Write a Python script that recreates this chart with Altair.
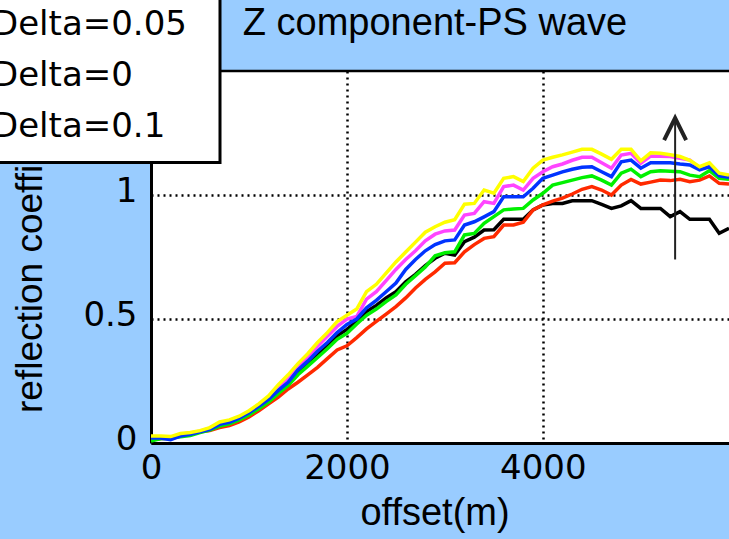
import altair as alt
import pandas as pd

# ---------------- data ----------------
offset_m = list(range(0, 6000, 100))

black = [0.015, 0.018, 0.018, 0.03, 0.036, 0.045, 0.055, 0.072, 0.08, 0.097,
         0.118, 0.143, 0.17, 0.205, 0.24, 0.285, 0.32, 0.36, 0.395, 0.432,
         0.458, 0.49, 0.53, 0.555, 0.585, 0.61, 0.65, 0.68, 0.715, 0.745,
         0.765, 0.758, 0.812, 0.83, 0.859, 0.86, 0.902, 0.902, 0.902, 0.94,
         0.96, 0.966, 0.966, 0.977, 0.977, 0.977, 0.962, 0.946, 0.956, 0.977,
         0.946, 0.946, 0.946, 0.913, 0.933, 0.902, 0.902, 0.902, 0.846, 0.866]
red = [0.012, 0.02, 0.022, 0.03, 0.035, 0.045, 0.05, 0.062, 0.07, 0.085,
       0.105, 0.13, 0.158, 0.185, 0.218, 0.245, 0.275, 0.305, 0.34, 0.375,
       0.392, 0.425, 0.46, 0.49, 0.52, 0.55, 0.585, 0.625, 0.66, 0.69,
       0.725, 0.727, 0.771, 0.8, 0.825, 0.832, 0.879, 0.879, 0.89, 0.94,
       0.96, 0.975, 0.987, 1.004, 1.023, 1.034, 1.02, 1.0, 1.04, 1.063,
       1.044, 1.052, 1.06, 1.058, 1.063, 1.054, 1.06, 1.077, 1.047, 1.044]
green = [0.008, 0.018, 0.02, 0.025, 0.03, 0.042, 0.052, 0.068, 0.077, 0.093,
         0.113, 0.138, 0.165, 0.2, 0.232, 0.275, 0.31, 0.345, 0.38, 0.418,
         0.442, 0.48, 0.515, 0.54, 0.57, 0.597, 0.64, 0.675, 0.71, 0.755,
         0.767, 0.771, 0.839, 0.845, 0.886, 0.913, 0.94, 0.944, 0.946, 0.98,
         1.007, 1.04, 1.05, 1.06, 1.07, 1.077, 1.06, 1.04, 1.088, 1.104,
         1.074, 1.094, 1.098, 1.096, 1.094, 1.08, 1.074, 1.098, 1.067, 1.063]
magenta = [0.025, 0.025, 0.022, 0.035, 0.04, 0.048, 0.06, 0.08, 0.088, 0.102,
           0.125, 0.152, 0.182, 0.225, 0.262, 0.31, 0.345, 0.39, 0.43, 0.47,
           0.5, 0.51, 0.58, 0.61, 0.655, 0.7, 0.74, 0.775, 0.815, 0.842,
           0.855, 0.859, 0.919, 0.926, 0.973, 0.966, 1.034, 1.04, 1.02, 1.067,
           1.094, 1.114, 1.125, 1.14, 1.152, 1.152, 1.13, 1.108, 1.161, 1.168,
           1.128, 1.157, 1.156, 1.155, 1.148, 1.141, 1.108, 1.125, 1.081, 1.074]
blue = [0.02, 0.02, 0.013, 0.028, 0.035, 0.045, 0.055, 0.075, 0.083, 0.1,
        0.122, 0.148, 0.176, 0.212, 0.245, 0.295, 0.33, 0.37, 0.405, 0.445,
        0.478, 0.5, 0.545, 0.575, 0.61, 0.645, 0.7, 0.74, 0.775, 0.8,
        0.815, 0.819, 0.879, 0.892, 0.912, 0.933, 0.993, 0.993, 0.993, 1.027,
        1.067, 1.08, 1.093, 1.104, 1.112, 1.114, 1.094, 1.074, 1.134, 1.141,
        1.108, 1.13, 1.13, 1.13, 1.125, 1.121, 1.101, 1.114, 1.077, 1.071]
yellow = [0.028, 0.028, 0.026, 0.038, 0.042, 0.05, 0.062, 0.085, 0.093, 0.108,
          0.13, 0.158, 0.19, 0.235, 0.275, 0.32, 0.36, 0.405, 0.445, 0.49,
          0.515, 0.54, 0.61, 0.64, 0.685, 0.73, 0.77, 0.81, 0.85, 0.872,
          0.89, 0.9, 0.963, 0.966, 1.02, 1.007, 1.067, 1.074, 1.054, 1.108,
          1.141, 1.152, 1.162, 1.173, 1.184, 1.184, 1.165, 1.144, 1.184, 1.184,
          1.138, 1.17, 1.168, 1.162, 1.155, 1.14, 1.114, 1.13, 1.088, 1.081]

# drawing order (first drawn at the bottom)
series_names = ["black", "red", "green", "magenta", "blue", "yellow"]
series_values = [black, red, green, magenta, blue, yellow]
series_colors = ["#000000", "#FF2A00", "#00F000", "#FF44FF", "#0033FF", "#FFFF00"]

legend_labels = ["Delta=0.05", "Delta=0", "Delta=0.1"]
x_ticks = [0, 2000, 4000]
y_ticks = [0, 0.5, 1]

arrow_offset = [5350]
arrow_from = [0.74]
arrow_to = [1.31]
arrow_head = [1.266]

title_text = "Z component-PS wave"
x_title = "offset(m)"
y_title = "reflection coefficient"

# ---------------- layout ----------------
W, H = 578, 372
PAD = {"left": 151, "top": 71, "right": 0, "bottom": 96}
BG = "#99CCFF"

x_scale = alt.Scale(domain=[0, 5900], nice=False, zero=False)
y_scale = alt.Scale(domain=[0, 1.5], nice=False)

common_axis = dict(
    title=None, ticks=False, tickSize=0,
    labelFont="DejaVu Sans", labelFontSize=34, labelColor="black",
    labelOverlap=False, labelFlush=False, labelBound=False,
    domainColor="black", domainWidth=3,
    grid=True, gridColor="black", gridDash=[2, 4], gridWidth=2.5, gridOpacity=1,
)
x_axis = alt.Axis(values=x_ticks, format="d", labelPadding=8, **common_axis)
y_axis = alt.Axis(values=y_ticks, format="~g", labelPadding=14, labelOffset=-4, **common_axis)

X = alt.X("offset:Q", scale=x_scale, axis=x_axis)
Y = alt.Y("value:Q", scale=y_scale, axis=y_axis)

layers = []
for name, vals, col in zip(series_names, series_values, series_colors):
    df = pd.DataFrame({"offset": offset_m, "value": vals})
    layers.append(
        alt.Chart(df).mark_line(color=col, strokeWidth=3.5, clip=True, strokeJoin="miter")
        .encode(x=X, y=Y)
    )

arrow_df = pd.DataFrame({"offset": arrow_offset, "value": arrow_from, "value2": arrow_to,
                         "head": arrow_head})
layers.append(
    alt.Chart(arrow_df).mark_rule(color="#222222", strokeWidth=2)
    .encode(x=X, y=Y, y2="value2:Q")
)
layers.append(
    alt.Chart(arrow_df).mark_point(shape="M -1 1 L 0 -1 L 1 1", filled=False,
                                   color="#222222", strokeWidth=4, size=484, opacity=1)
    .encode(x=X, y=alt.Y("head:Q", scale=y_scale, axis=y_axis))
)

one = pd.DataFrame({"a": [0]})
# top border of the axes box
layers.append(
    alt.Chart(one).mark_rule(color="black", strokeWidth=2.5)
    .encode(x=alt.value(0), x2=alt.value(W), y=alt.value(0))
)

# title and axis titles
layers.append(
    alt.Chart(pd.DataFrame({"t": [title_text]})).mark_text(
        font="Liberation Sans", fontSize=38, align="center", baseline="alphabetic", color="black")
    .encode(text="t:N", x=alt.value(284), y=alt.value(-36))
)
layers.append(
    alt.Chart(pd.DataFrame({"t": [x_title]})).mark_text(
        font="Liberation Sans", fontSize=38, align="center", baseline="alphabetic", color="black")
    .encode(text="t:N", x=alt.value(284), y=alt.value(454))
)
layers.append(
    alt.Chart(pd.DataFrame({"t": [y_title]})).mark_text(
        font="Liberation Sans", fontSize=37, align="left", baseline="alphabetic",
        angle=270, color="black")
    .encode(text="t:N", x=alt.value(-109), y=alt.value(342))
)

# legend box (partly outside the picture, as in the reference)
layers.append(
    alt.Chart(one).mark_rect(fill="white", stroke="black", strokeWidth=3)
    .encode(x=alt.value(-175), x2=alt.value(69), y=alt.value(-90), y2=alt.value(91.5))
)
for lab, yy in zip(legend_labels, [-36, 15, 66]):
    layers.append(
        alt.Chart(pd.DataFrame({"t": [lab]})).mark_text(
            font="DejaVu Sans", fontSize=34, align="left", baseline="alphabetic", color="black")
        .encode(text="t:N", x=alt.value(-159), y=alt.value(yy))
    )

chart = (
    alt.layer(*layers)
    .properties(width=W, height=H, padding=PAD, autosize=alt.AutoSizeParams(type="none"),
                background=BG)
    .configure_view(fill="white", strokeWidth=0)
)

chart.save("out.html", embed_options={"renderer": "svg", "actions": False})
